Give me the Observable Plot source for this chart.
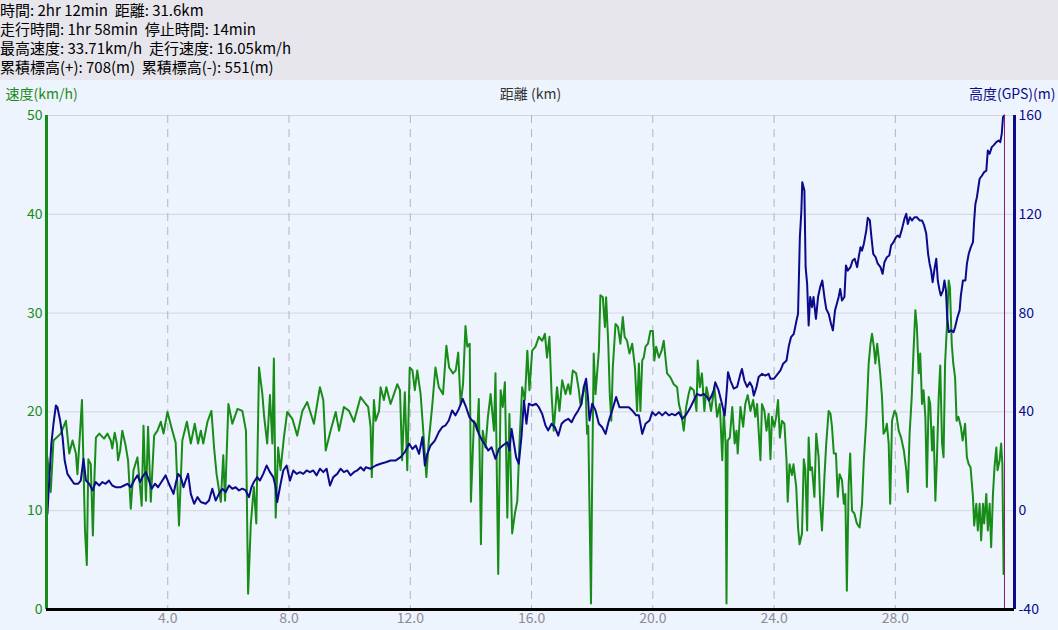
<!DOCTYPE html>
<html><head><meta charset="utf-8">
<script src="https://cdn.jsdelivr.net/npm/d3@7"></script>
<script src="https://cdn.jsdelivr.net/npm/@observablehq/plot@0.6"></script>
<style>
html,body{margin:0;padding:0;background:#eef4fd;width:1058px;height:630px;overflow:hidden;}
#hdr{height:80px;background:#e6e6ec;font-family:"Noto Sans CJK JP",sans-serif;font-size:15px;line-height:19px;color:#000;padding-left:0;white-space:pre;}
#chart svg{display:block;}
</style></head>
<body>
<div id="hdr"></div>
<div id="chart"></div>
<script>
const headerLines = [
  "時間: 2hr 12min  距離: 31.6km",
  "走行時間: 1hr 58min  停止時間: 14min",
  "最高速度: 33.71km/h  走行速度: 16.05km/h",
  "累積標高(+): 708(m)  累積標高(-): 551(m)"
];
const leftTitle = "速度(km/h)";
const centerTitle = "距離 (km)";
const rightTitle = "高度(GPS)(m)";
const xTicks = [4, 8, 12, 16, 20, 24, 28];
const speedTicks = [0, 10, 20, 30, 40, 50];
const elevTicks = [-40, 0, 40, 80, 120, 160];
const xMax = 31.93;
const endKm = 31.6;

const speedKm = [0.03,0.14,0.23,0.47,0.64,0.75,0.86,0.97,1.02,1.11,1.17,1.27,1.33,1.38,1.46,1.53,1.57,1.63,1.74,1.90,2.01,2.12,2.17,2.25,2.32,2.36,2.43,2.50,2.61,2.69,2.78,2.87,3.00,3.14,3.20,3.28,3.35,3.44,3.55,3.66,3.77,3.86,3.99,4.15,4.26,4.37,4.48,4.63,4.76,4.89,5.00,5.09,5.17,5.31,5.44,5.53,5.61,5.75,5.83,5.89,6.00,6.13,6.30,6.46,6.58,6.65,6.74,6.84,6.92,7.01,7.12,7.18,7.28,7.37,7.45,7.50,7.56,7.64,7.72,7.83,7.94,8.11,8.27,8.44,8.60,8.82,9.02,9.13,9.21,9.37,9.54,9.65,9.81,9.98,10.14,10.36,
10.53,10.61,10.69,10.73,10.80,10.86,10.97,11.02,11.13,11.21,11.35,11.46,11.57,11.66,11.73,11.82,11.90,11.98,12.07,12.15,12.23,12.34,12.45,12.53,12.61,12.72,12.83,12.94,13.08,13.19,13.28,13.41,13.50,13.58,13.66,13.74,13.82,13.88,13.96,14.00,14.10,14.21,14.26,14.33,14.39,14.48,14.56,14.65,14.76,14.81,14.90,14.98,15.05,15.12,15.20,15.27,15.36,15.45,15.53,15.60,15.69,15.78,15.86,15.93,16.02,16.13,16.24,16.35,16.44,16.51,16.59,16.66,16.73,16.84,16.92,17.01,17.12,17.21,17.28,17.36,17.47,17.56,17.61,17.69,17.78,17.83,17.87,17.96,18.00,18.05,18.11,18.22,18.27,18.35,18.42,18.46,18.53,18.58,18.63,18.68,18.77,18.85,18.93,19.01,19.07,19.15,19.23,19.32,19.41,19.48,19.54,19.59,19.65,19.70,19.76,19.84,19.92,20.00,20.05,20.11,20.20,20.29,20.36,20.47,20.58,20.69,20.80,20.86,20.94,21.02,21.10,21.18,
21.24,21.35,21.44,21.48,21.55,21.62,21.70,21.77,21.84,21.92,22.03,22.12,22.21,22.29,22.34,22.40,22.43,22.47,22.54,22.62,22.70,22.76,22.80,22.89,22.98,23.05,23.13,23.22,23.31,23.38,23.44,23.49,23.55,23.60,23.68,23.75,23.82,23.88,23.93,24.01,24.07,24.13,24.19,24.26,24.34,24.41,24.45,24.51,24.59,24.64,24.73,24.79,24.84,24.92,24.98,25.03,25.09,25.14,25.19,25.25,25.33,25.39,25.47,25.52,25.58,25.66,25.72,25.80,25.86,25.91,25.97,26.04,26.10,26.16,26.24,26.30,26.35,26.40,26.46,26.51,26.57,26.65,26.73,26.82,26.90,26.96,27.04,27.12,27.18,27.23,27.29,27.34,27.40,27.45,27.50,27.56,27.61,27.67,27.72,27.78,27.83,27.89,27.97,28.03,28.11,28.19,28.28,28.36,28.41,28.47,28.54,28.60,28.66,28.71,28.77,28.82,28.88,28.93,28.99,29.04,29.10,29.15,29.21,29.26,29.32,29.37,29.43,29.48,29.54,29.59,29.64,29.70,29.76,29.80,29.86,29.91,29.97,30.02,30.08,30.16,30.22,30.30,30.36,30.42,30.48,30.56,30.60,30.67,30.72,30.78,30.83,30.89,30.93,31.00,31.05,31.11,31.16,31.22,31.27,31.33,31.37,31.44,31.49,31.53,31.57];
const speedVal = [15.4,11.9,17.1,17.8,19.1,15.8,17.1,15.8,13.7,18.1,21.2,8.0,4.5,15.2,14.7,7.5,12.4,17.4,17.8,17.3,17.8,17.1,16.3,17.9,16.8,15.1,16.1,18.1,16.6,15.1,10.2,14.1,15.4,10.5,18.6,11.0,18.5,10.9,17.6,18.1,19.0,17.8,20.0,18.1,16.9,8.5,17.1,19.0,16.8,18.8,16.8,18.1,16.8,19.0,20.1,16.3,13.7,10.9,15.6,11.0,20.8,18.8,20.3,20.1,18.1,1.6,8.7,12.4,8.7,24.5,21.8,19.5,16.8,21.7,16.8,25.4,9.3,16.4,14.1,17.4,20.0,19.3,17.6,20.1,21.0,18.8,22.5,21.2,16.1,18.1,20.0,18.1,20.5,20.1,19.0,21.5,
20.8,20.5,18.5,13.4,21.2,19.1,20.1,22.5,21.2,22.5,20.8,21.8,22.8,22.2,15.1,22.0,14.1,24.5,24.2,22.2,24.2,21.8,17.1,13.4,17.1,20.5,24.5,22.5,21.8,26.7,24.5,23.9,24.2,26.0,20.8,22.8,28.7,26.6,26.9,10.9,19.1,18.1,21.3,6.6,18.1,16.4,19.5,21.8,18.1,23.9,3.6,22.2,20.5,23.0,9.3,19.8,7.7,9.7,11.0,16.8,22.5,21.2,26.2,22.2,26.2,26.6,27.6,27.2,27.9,25.5,27.6,21.8,18.1,22.5,20.1,23.2,21.8,22.8,21.8,24.2,23.9,22.2,20.8,21.8,22.8,17.8,18.6,0.6,13.4,25.9,21.8,26.2,31.8,31.6,28.6,31.6,26.9,21.8,19.1,24.5,28.9,28.6,26.9,29.6,27.6,27.2,25.9,26.9,24.5,20.1,24.9,20.1,25.2,25.5,26.6,26.9,28.2,28.2,25.2,26.6,25.5,26.2,27.2,23.9,23.5,22.8,22.5,20.8,19.8,18.1,20.5,21.8,
22.5,22.2,20.1,25.2,22.5,23.9,20.1,22.5,21.5,20.1,22.5,19.5,20.8,15.1,20.1,16.8,0.6,17.1,17.4,20.5,16.8,18.1,15.8,20.5,18.5,20.8,21.7,20.1,21.2,19.5,20.8,18.1,15.1,20.8,20.1,18.1,19.8,15.2,19.5,18.5,19.5,21.2,17.4,19.1,18.8,15.1,10.9,14.7,13.6,14.7,12.4,8.3,6.6,7.7,15.2,14.2,8.0,17.4,14.1,14.4,11.4,17.8,15.4,10.7,8.0,13.4,16.8,20.1,19.8,18.5,15.8,15.8,11.4,13.7,13.1,10.7,11.7,1.9,12.7,15.8,10.0,9.7,8.7,8.3,10.7,15.1,19.1,24.9,26.9,27.9,26.6,24.9,26.9,25.5,23.9,21.5,17.8,18.1,18.8,16.8,10.7,19.1,20.1,19.8,18.1,17.4,16.1,14.1,11.9,17.8,21.5,26.2,30.3,28.6,23.9,25.9,20.8,22.2,19.5,12.4,21.5,20.8,16.1,18.5,11.0,15.1,21.5,24.7,16.8,15.4,24.9,28.6,33.3,32.6,26.9,24.9,23.5,19.1,19.5,18.5,17.1,18.8,15.4,14.7,14.4,11.4,8.5,10.7,8.0,10.7,7.0,10.7,8.7,11.7,8.0,10.7,6.3,11.7,14.4,16.4,14.1,15.1,16.8,14.7,3.6];

const elevKm = [0.03,0.09,0.16,0.23,0.31,0.36,0.45,0.53,0.60,0.69,0.80,0.91,1.04,1.13,1.22,1.30,1.41,1.52,1.62,1.74,1.84,1.95,2.06,2.17,2.28,2.45,2.56,2.67,2.78,2.89,3.00,3.09,3.16,3.28,3.38,3.47,3.58,3.68,3.79,3.93,4.04,4.19,4.26,4.34,4.43,4.52,4.59,4.67,4.76,4.87,4.98,5.09,5.25,5.36,5.47,5.58,5.69,5.80,5.91,6.02,6.13,6.24,6.35,6.46,6.57,6.68,6.76,6.84,6.95,7.04,7.15,7.26,7.37,7.48,7.56,7.61,7.70,7.81,7.92,8.03,8.14,8.25,8.36,8.47,8.58,8.69,8.80,8.91,9.02,9.13,9.24,9.35,9.46,9.59,9.70,9.81,9.92,10.03,10.14,10.25,10.36,10.47,
10.53,10.69,10.86,11.02,11.19,11.35,11.51,11.68,11.82,11.96,12.07,12.18,12.29,12.40,12.48,12.56,12.67,12.81,12.94,13.05,13.16,13.27,13.38,13.49,13.60,13.73,13.84,13.95,14.04,14.15,14.26,14.37,14.48,14.57,14.68,14.81,14.92,15.05,15.20,15.27,15.34,15.42,15.49,15.58,15.67,15.75,15.83,15.91,16.02,16.15,16.24,16.35,16.46,16.55,16.66,16.77,16.88,16.99,17.10,17.21,17.32,17.43,17.54,17.65,17.72,17.80,17.86,17.91,18.00,18.11,18.22,18.33,18.44,18.55,18.66,18.79,18.90,19.05,19.21,19.32,19.45,19.54,19.65,19.76,19.89,19.98,20.09,20.20,20.31,20.42,20.53,20.63,20.74,20.86,20.97,21.08,21.18,
21.24,21.35,21.46,21.57,21.68,21.79,21.85,21.92,22.01,22.06,22.17,22.28,22.37,22.43,22.48,22.56,22.67,22.78,22.89,22.94,23.02,23.11,23.20,23.28,23.33,23.42,23.49,23.60,23.71,23.82,23.88,23.99,24.12,24.21,24.30,24.41,24.49,24.56,24.65,24.74,24.79,24.85,24.90,24.93,25.00,25.04,25.09,25.14,25.19,25.25,25.30,25.38,25.45,25.52,25.59,25.66,25.72,25.80,25.88,25.94,26.01,26.07,26.13,26.18,26.24,26.32,26.37,26.43,26.52,26.59,26.66,26.74,26.79,26.85,26.90,26.96,27.04,27.09,27.16,27.20,27.27,27.35,27.42,27.51,27.58,27.64,27.72,27.80,27.86,27.94,28.02,28.08,28.14,28.22,28.30,28.36,28.41,28.48,28.55,28.63,28.71,28.80,28.88,28.95,29.02,29.08,29.13,29.18,29.23,29.30,29.35,29.40,29.46,29.50,29.57,29.62,29.67,29.71,29.76,29.84,29.92,29.97,30.05,30.12,30.16,30.23,30.31,30.36,30.42,30.49,30.56,30.60,30.64,30.69,30.78,30.86,30.93,31.00,31.05,31.11,31.18,31.24,31.33,31.41,31.46,31.51,31.55,31.59];
const elevVal = [-1.3,12.2,27.1,35.2,42.6,41.9,36.5,29.8,20.3,14.9,12.9,10.9,10.9,12.2,21.0,12.2,10.9,8.2,11.6,10.2,11.6,10.9,12.2,10.2,9.5,9.5,10.2,10.9,9.5,12.2,14.3,11.6,13.6,15.6,12.2,8.9,10.9,9.5,11.6,14.3,10.9,6.8,10.9,14.9,13.6,9.5,12.2,14.9,6.8,2.8,5.5,3.5,2.8,4.1,8.9,4.1,6.8,8.9,7.5,10.2,8.9,9.5,8.2,8.9,8.2,5.5,9.5,11.6,13.6,12.2,14.9,18.3,15.6,13.6,9.5,3.5,9.5,16.3,18.3,12.2,16.3,14.9,15.6,14.9,16.3,15.6,16.3,14.3,17.0,15.6,17.0,10.2,13.6,14.9,17.0,15.6,16.3,14.3,15.6,16.3,17.6,16.3,
17.6,17.0,18.3,19.0,19.6,20.3,20.3,21.7,23.7,27.1,25.0,26.4,23.0,29.8,18.3,23.0,26.4,28.4,31.8,33.8,34.5,36.5,40.6,38.6,41.2,45.3,41.9,37.9,36.5,35.2,31.1,28.4,26.4,24.4,25.7,21.0,25.0,26.4,27.7,24.4,33.1,27.1,21.7,19.0,30.4,44.6,35.2,43.3,42.6,43.3,41.9,39.2,34.5,32.5,35.2,33.8,30.4,35.2,36.5,37.2,35.8,38.5,40.6,43.3,50.0,53.4,46.0,36.5,43.3,40.6,35.2,33.8,31.1,36.5,40.6,46.0,41.9,41.9,41.9,40.6,38.6,38.6,31.1,35.2,36.5,39.9,38.6,39.9,38.6,39.9,38.6,39.2,38.6,39.9,37.2,38.6,40.6,
41.9,44.6,47.3,46.6,47.3,46.0,44.6,46.0,48.7,52.0,48.7,43.3,38.5,47.3,56.1,52.7,49.4,50.1,55.4,57.4,52.7,50.1,52.0,50.1,46.6,50.1,54.1,55.4,54.7,55.4,53.4,53.4,55.4,56.8,59.5,60.8,66.9,70.3,71.6,77.0,79.7,110.7,121.5,133.0,129.6,98.6,91.8,75.0,86.5,82.4,86.5,77.7,86.5,90.5,93.2,86.5,81.7,79.7,75.6,73.0,81.1,83.8,86.5,89.8,85.1,86.5,99.3,97.2,98.6,101.3,102.0,98.6,102.6,106.7,105.3,108.0,113.4,118.6,117.5,112.1,104.0,102.6,100.0,98.6,95.9,100.6,102.6,103.3,107.4,108.7,110.7,111.4,110.7,114.1,118.2,120.2,116.1,118.8,117.5,118.8,118.8,117.5,117.5,115.5,112.1,104.0,100.0,97.2,92.5,98.6,102.0,93.2,89.1,87.1,89.1,93.2,89.1,78.4,72.3,73.0,72.3,74.3,78.4,81.1,87.1,93.2,93.2,99.9,104.0,106.7,108.7,117.5,124.2,126.9,134.4,135.7,137.1,137.7,145.8,144.5,147.2,147.9,149.2,149.9,149.2,152.6,159.3,160.0];

const green = "#188c18";
const navy = "#0a0a8a";
const speed = speedKm.map((k, i) => ({km: k, v: speedVal[i]}));
const elev = elevKm.map((k, i) => ({km: k, e: elevVal[i]}));
const e2s = e => (e + 40) / 4;

document.getElementById("hdr").textContent = headerLines.join("\n");

const chart = Plot.plot({
  width: 1058,
  height: 550,
  marginTop: 35,
  marginBottom: 21,
  marginLeft: 46,
  marginRight: 44,
  style: {background: "#eef4fd", fontFamily: "'Noto Sans CJK JP', sans-serif", fontSize: "14px", overflow: "visible"},
  x: {domain: [0, xMax]},
  y: {domain: [0, 50]},
  marks: [
    Plot.ruleY(speedTicks.slice(1), {stroke: "#d3d5dd", strokeWidth: 1}),
    Plot.ruleX(xTicks, {stroke: "#b2b4bc", strokeWidth: 1, strokeDasharray: "8,6"}),
    Plot.lineY(speed, {x: "km", y: "v", stroke: green, strokeWidth: 2}),
    Plot.lineY(elev, {x: "km", y: d => e2s(d.e), stroke: navy, strokeWidth: 2}),
    Plot.ruleX([endKm], {stroke: "#8a1a6a", strokeWidth: 1}),
    Plot.ruleX([0], {stroke: green, strokeWidth: 3}),
    Plot.ruleX([xMax], {stroke: navy, strokeWidth: 3}),
    Plot.ruleY([0], {stroke: "#000", strokeWidth: 3}),
    Plot.axisX({ticks: xTicks, tickFormat: d => d.toFixed(1), tickSize: 0, tickPadding: 4, label: null, color: "#8c8c96"}),
    Plot.axisY({ticks: speedTicks, tickFormat: d => String(d), tickSize: 0, tickPadding: 4, label: null, color: green}),
    Plot.axisY({anchor: "right", ticks: elevTicks.map(e2s), tickFormat: s => String(Math.round(s * 4 - 40)), tickSize: 0, tickPadding: 4, label: null, color: navy}),
    Plot.text([leftTitle], {frameAnchor: "top-left", lineAnchor: "middle", dx: -41, dy: -21, textAnchor: "start", fill: green}),
    Plot.text([centerTitle], {frameAnchor: "top", lineAnchor: "middle", dy: -21, fill: "#333"}),
    Plot.text([rightTitle], {frameAnchor: "top-right", lineAnchor: "middle", dx: 41, dy: -21, textAnchor: "end", fill: navy})
  ]
});
document.getElementById("chart").appendChild(chart);
</script>
</body></html>
